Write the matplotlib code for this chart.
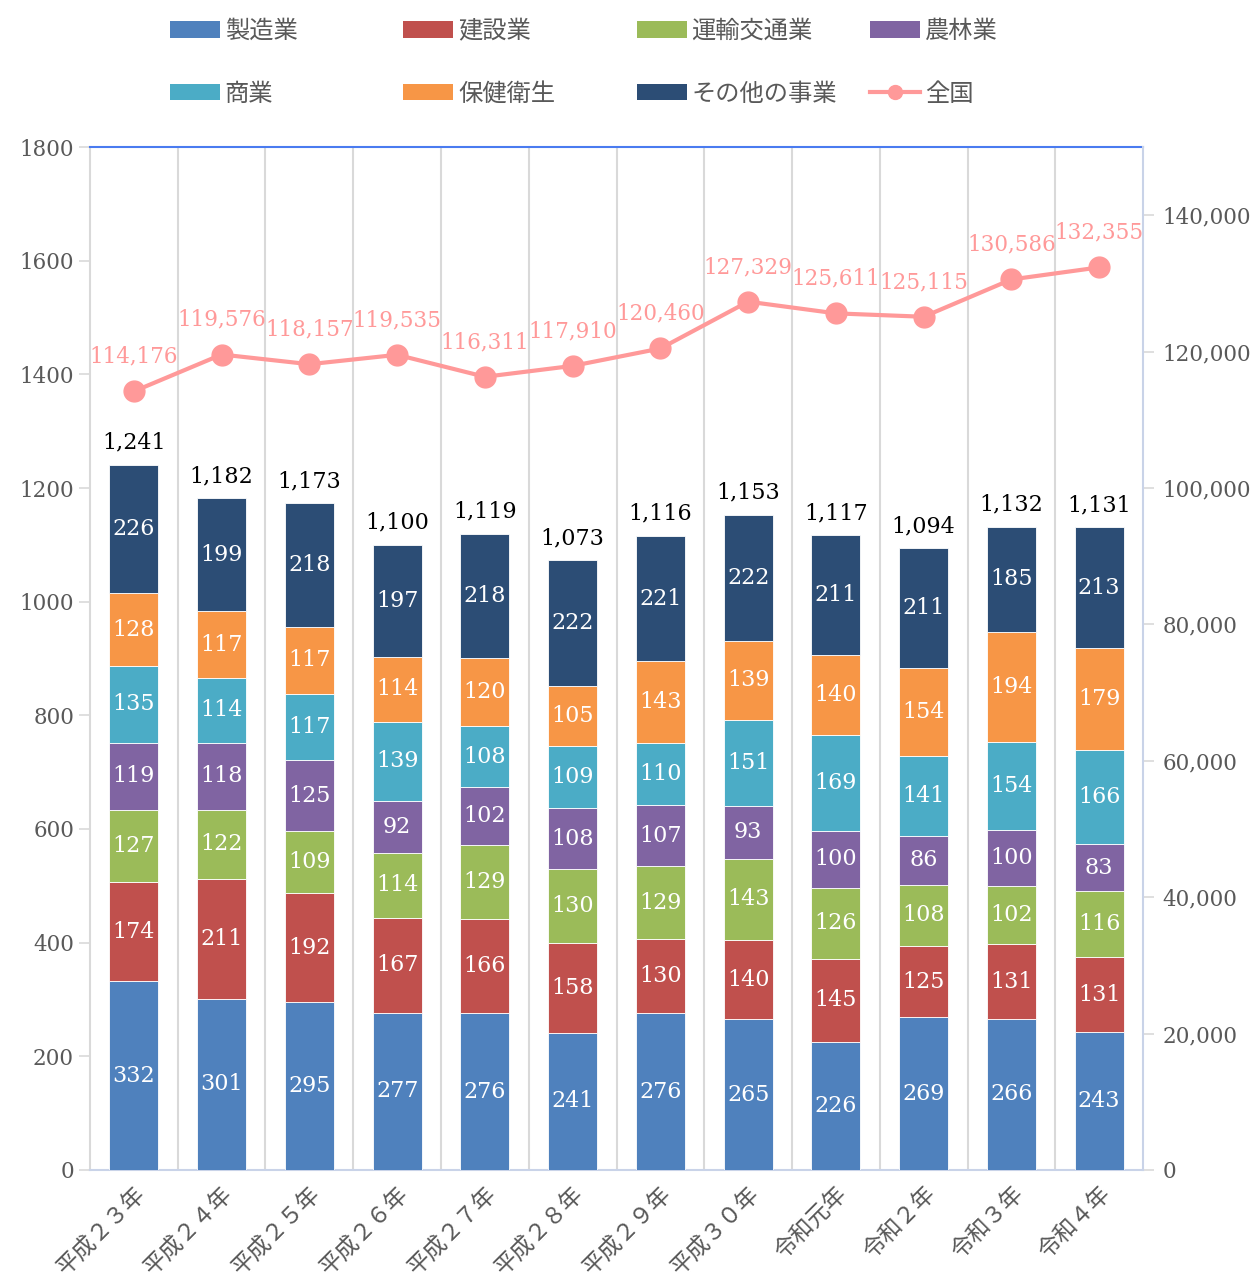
import matplotlib.pyplot as plt
import numpy as np
from matplotlib.lines import Line2D
from matplotlib.patches import Patch

plt.rcParams['font.family'] = ['DejaVu Serif', 'Noto Sans CJK JP']

# data
years = ['平成２３年', '平成２４年', '平成２５年', '平成２６年', '平成２７年', '平成２８年',
         '平成２９年', '平成３０年', '令和元年', '令和２年', '令和３年', '令和４年']
names = ['製造業', '建設業', '運輸交通業', '農林業', '商業', '保健衛生', 'その他の事業']
seizo = [332, 301, 295, 277, 276, 241, 276, 265, 226, 269, 266, 243]
kensetsu = [174, 211, 192, 167, 166, 158, 130, 140, 145, 125, 131, 131]
unyu = [127, 122, 109, 114, 129, 130, 129, 143, 126, 108, 102, 116]
norin = [119, 118, 125, 92, 102, 108, 107, 93, 100, 86, 100, 83]
shogyo = [135, 114, 117, 139, 108, 109, 110, 151, 169, 141, 154, 166]
hoken = [128, 117, 117, 114, 120, 105, 143, 139, 140, 154, 194, 179]
sonota = [226, 199, 218, 197, 218, 222, 221, 222, 211, 211, 185, 213]
zenkoku = [114176, 119576, 118157, 119535, 116311, 117910, 120460, 127329,
           125611, 125115, 130586, 132355]

series = [seizo, kensetsu, unyu, norin, shogyo, hoken, sonota]
colors = ['#4F81BD', '#C0504D', '#9BBB59', '#8064A2', '#4BACC6', '#F79646', '#2C4D75']
line_color = '#FF9999'
gray = '#595959'

fig = plt.figure(figsize=(12.55, 12.81), dpi=100)
ax = fig.add_axes([0.0717, 0.0867, 0.8391, 0.7985])

x = np.arange(len(years))
bottom = np.zeros(len(years))
cont = None
for vals, c in zip(series, colors):
    cont = ax.bar(x, vals, 0.56, bottom=bottom, color=c, edgecolor='white', linewidth=0.6, zorder=3)
    ax.bar_label(cont, label_type='center', color='white', fontsize=16, zorder=4)
    bottom = bottom + np.array(vals)

totals = [f'{int(t):,}' for t in bottom]
ax.bar_label(cont, labels=totals, padding=8, color='black', fontsize=16)

ax.set_xlim(-0.5, 11.5)
ax.set_ylim(0, 1800)
ax.set_yticks(np.arange(0, 1801, 200))
for b in np.arange(0.5, 11.5, 1):
    ax.axvline(b, color='#D9D9D9', linewidth=1.5, zorder=1)

ax.set_xticks(x)
ax.set_xticklabels(years, rotation=45, ha='right', va='top', rotation_mode='anchor',
                   family='Noto Sans CJK JP', fontsize=16.5, color=gray)
ax.tick_params(axis='x', length=0, pad=9)
ax.tick_params(axis='y', labelsize=15.5, labelcolor=gray, color='#D9D9D9', length=8, width=1.2)
ax.spines['top'].set_color('#4A7BF0')
ax.spines['top'].set_linewidth(1.5)
ax.spines['left'].set_color('#D9D9D9')
ax.spines['left'].set_linewidth(1.5)
ax.spines['bottom'].set_color('#C9D3E8')
ax.spines['bottom'].set_linewidth(1.5)
ax.spines['right'].set_visible(False)

ax2 = ax.twinx()
ax2.set_ylim(0, 150000)
ax2.set_yticks(np.arange(0, 140001, 20000))
ax2.set_yticklabels([f'{v:,}' for v in range(0, 140001, 20000)])
ax2.plot(x, zenkoku, color=line_color, linewidth=3, marker='o', markersize=15, zorder=5)
for xi, v in zip(x, zenkoku):
    ax2.annotate(f'{v:,}', (xi, v), xytext=(0, 17), textcoords='offset points',
                 ha='center', va='bottom', color=line_color, fontsize=15.5)
ax2.tick_params(axis='y', labelsize=15.5, labelcolor=gray, color='#D9D9D9', length=8, width=1.2, pad=6)
for s in ['top', 'left', 'bottom']:
    ax2.spines[s].set_visible(False)
ax2.spines['right'].set_color('#C9D3E8')
ax2.spines['right'].set_linewidth(1.5)

# legend, laid out in 4 columns of 2 rows
handles = [Patch(facecolor=c) for c in colors]
handles.append(Line2D([], [], color=line_color, linewidth=3, marker='o', markersize=10))
labels = names + ['全国']
col_x = [0.118, 0.304, 0.490, 0.676]
for i in range(4):
    leg = fig.legend([handles[i], handles[i + 4]], [labels[i], labels[i + 4]],
                     loc='upper left', bbox_to_anchor=(col_x[i], 1.003), frameon=False,
                     prop={'family': 'Noto Sans CJK JP', 'size': 17.5},
                     handlelength=2.05, handleheight=0.65, handletextpad=0.2, labelspacing=1.51)
    for t in leg.get_texts():
        t.set_color(gray)

fig.savefig('out.png', dpi=100)
